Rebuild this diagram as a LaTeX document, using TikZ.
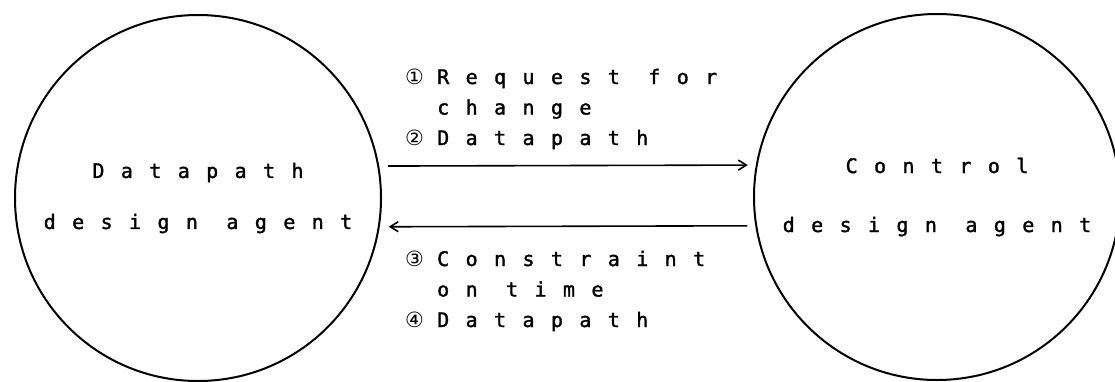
\documentclass[tikz,border=0pt]{standalone}
\usepackage{fontspec}
\newfontfamily\plotfont[LetterSpace=82,FakeBold=1.6]{DejaVu Sans Mono}
\newfontfamily\circfont{DejaVu Sans}
\usetikzlibrary{arrows.meta}
\newcommand\cnum[1]{\makebox[32pt][l]{\fontsize{21}{21}\circfont #1}}
\begin{document}
\begin{tikzpicture}[x=1pt,y=-1pt]
\useasboundingbox (0,0) rectangle (1115,381);
\tikzset{
  agent/.style={circle,draw,line width=2pt,minimum size=366pt,inner sep=0pt,align=center,font=\fontsize{20}{51}\plotfont},
  msg/.style={inner sep=0pt,anchor=base west,align=left,font=\fontsize{20}{30.5}\plotfont},
  flow/.style={-{Straight Barb[length=8pt,width=10pt]},line width=1.6pt}
}
\node[agent] (dp) at (198,198) {Datapath\\design agent};
\node[agent] (ct) at (937,197) {Control\\[8pt]design agent};
\draw[flow,shorten <=9pt,shorten >=8pt] (dp.10) -- (ct.170);
\draw[flow,shorten <=8pt,shorten >=9pt] (ct.189.5) -- (dp.-9.5);
\node[msg] (m12) at (405,145) {\cnum{①}Request for\\\hspace{32pt}change\\\cnum{②}Datapath};
\node[msg] (m34) at (405,327) {\cnum{③}Constraint\\\hspace{32pt}on time\\\cnum{④}Datapath};
\end{tikzpicture}
\end{document}
